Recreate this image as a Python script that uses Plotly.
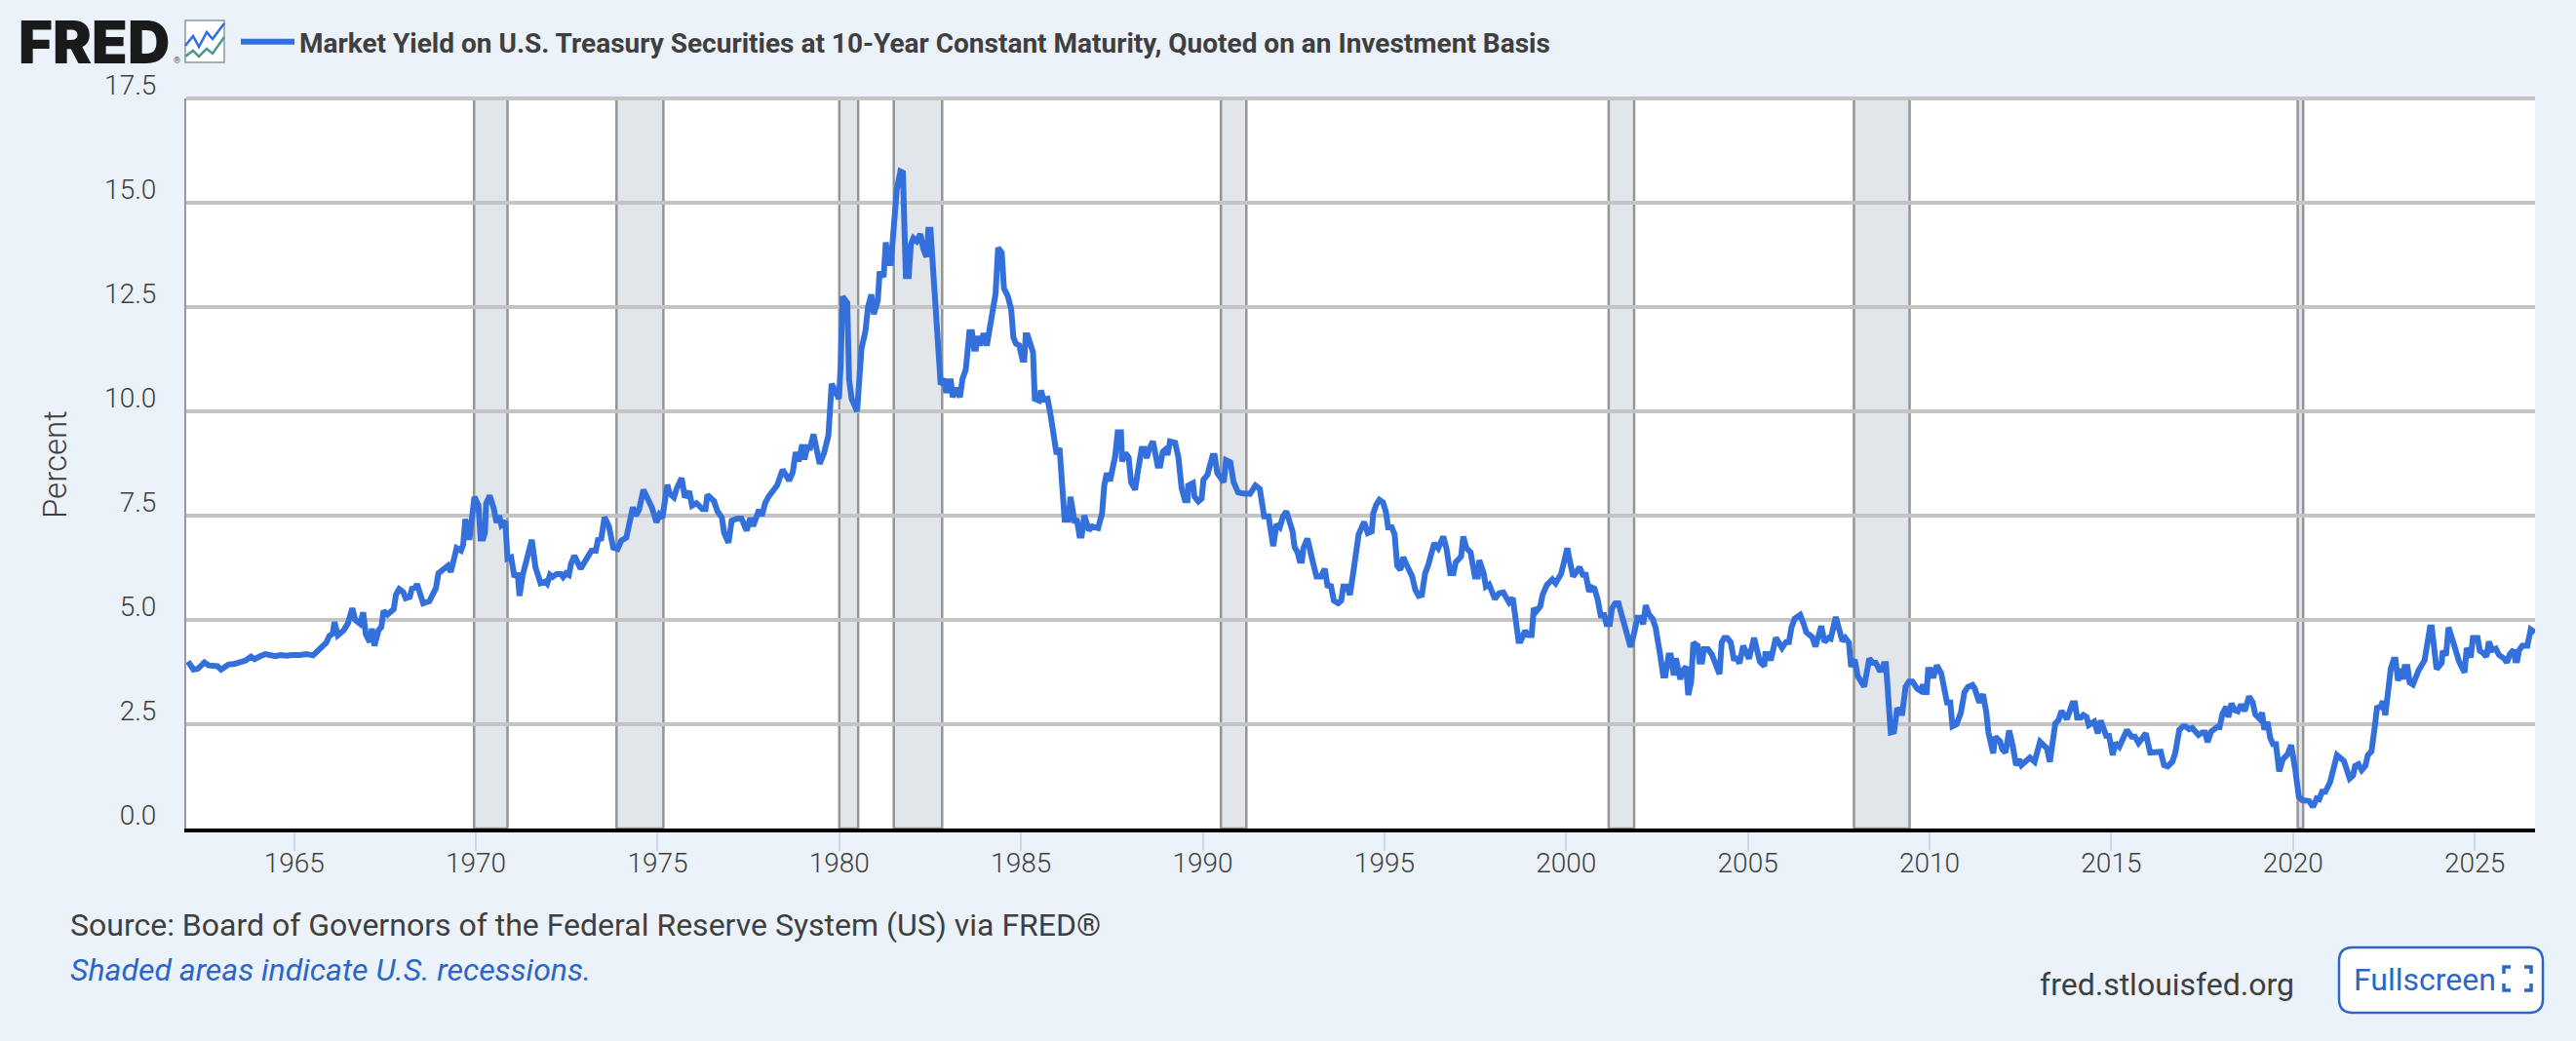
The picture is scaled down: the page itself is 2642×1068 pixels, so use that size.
"""FRED chart: 10-year Treasury constant maturity yield, with recession shading."""

import plotly.graph_objects as go

SERIES_NAME = "Market Yield on U.S. Treasury Securities at 10-Year Constant Maturity, Quoted on an Investment Basis"

years = [
    1962.08, 1962.23, 1962.35, 1962.53, 1962.65, 1962.89, 1962.99, 1963.19, 1963.37, 1963.55, 1963.67, 1963.81,
    1963.91, 1964.09, 1964.21, 1964.48, 1964.63, 1964.80, 1964.92, 1965.16, 1965.34, 1965.52, 1965.70, 1965.88,
    1965.97, 1966.06, 1966.11, 1966.20, 1966.36, 1966.48, 1966.60, 1966.68, 1966.81, 1966.90, 1966.97, 1967.08,
    1967.14, 1967.21, 1967.32, 1967.40, 1967.46, 1967.57, 1967.74, 1967.80, 1967.89, 1968.00, 1968.07, 1968.18,
    1968.24, 1968.33, 1968.38, 1968.48, 1968.55, 1968.72, 1968.81, 1968.90, 1968.97, 1969.11, 1969.23, 1969.31,
    1969.39, 1969.47, 1969.59, 1969.65, 1969.71, 1969.77, 1969.83, 1969.89, 1969.96, 1970.07, 1970.13, 1970.20,
    1970.25, 1970.28, 1970.38, 1970.49, 1970.57, 1970.64, 1970.70, 1970.81, 1970.87, 1970.97, 1971.06, 1971.15,
    1971.20, 1971.29, 1971.44, 1971.54, 1971.64, 1971.78, 1971.90, 1971.96, 1972.04, 1972.11, 1972.22, 1972.34,
    1972.40, 1972.48, 1972.56, 1972.62, 1972.71, 1972.88, 1973.00, 1973.18, 1973.30, 1973.36, 1973.45, 1973.54,
    1973.66, 1973.78, 1973.90, 1974.00, 1974.14, 1974.26, 1974.32, 1974.40, 1974.49, 1974.61, 1974.85, 1974.97,
    1975.05, 1975.13, 1975.27, 1975.33, 1975.45, 1975.53, 1975.66, 1975.75, 1975.87, 1975.95, 1976.07, 1976.23,
    1976.32, 1976.37, 1976.47, 1976.55, 1976.65, 1976.77, 1976.83, 1976.95, 1977.04, 1977.19, 1977.31, 1977.45,
    1977.55, 1977.63, 1977.79, 1977.87, 1977.96, 1978.05, 1978.29, 1978.44, 1978.62, 1978.72, 1978.80, 1978.88,
    1978.98, 1979.04, 1979.12, 1979.20, 1979.29, 1979.46, 1979.58, 1979.70,
    1979.79, 1979.85, 1979.99, 1980.04, 1980.09, 1980.22, 1980.27, 1980.34, 1980.49, 1980.61, 1980.72, 1980.79,
    1980.88, 1980.95, 1981.06, 1981.11, 1981.22, 1981.28, 1981.34, 1981.42, 1981.50, 1981.58, 1981.68, 1981.75,
    1981.83, 1981.91, 1981.97, 1982.04, 1982.13, 1982.23, 1982.31, 1982.40, 1982.45, 1982.51, 1982.58, 1982.67,
    1982.79, 1982.89, 1982.94, 1983.00, 1983.07, 1983.12, 1983.21, 1983.32, 1983.39, 1983.48, 1983.53, 1983.58,
    1983.65, 1983.71, 1983.76, 1983.80, 1983.88, 1983.97, 1984.06, 1984.15, 1984.21, 1984.30, 1984.37, 1984.47,
    1984.53, 1984.64, 1984.73, 1984.79, 1984.86, 1984.95, 1985.04, 1985.09, 1985.13, 1985.18, 1985.33, 1985.38,
    1985.49, 1985.55, 1985.62, 1985.73, 1985.80, 1985.93, 1985.98, 1986.06, 1986.20, 1986.31, 1986.36, 1986.47,
    1986.54, 1986.61, 1986.67, 1986.74, 1986.87, 1986.96, 1987.12, 1987.23, 1987.29, 1987.36, 1987.45, 1987.59,
    1987.66, 1987.75, 1987.78, 1987.87, 1987.96, 1988.03, 1988.14, 1988.21, 1988.32, 1988.39, 1988.46, 1988.52,
    1988.63, 1988.76, 1988.83, 1988.90, 1988.99, 1989.03, 1989.10, 1989.24, 1989.33, 1989.42, 1989.51, 1989.58,
    1989.60, 1989.73, 1989.77, 1989.88, 1989.97, 1990.02, 1990.13, 1990.27, 1990.33, 1990.40, 1990.58, 1990.64,
    1990.76, 1990.85, 1990.97, 1991.12, 1991.30, 1991.45, 1991.57,
    1991.69, 1991.81, 1991.94, 1992.03, 1992.12, 1992.21, 1992.30, 1992.47, 1992.53, 1992.61, 1992.67, 1992.73,
    1992.77, 1992.88, 1993.01, 1993.13, 1993.25, 1993.36, 1993.44, 1993.52, 1993.61, 1993.73, 1993.81, 1993.87,
    1993.97, 1994.05, 1994.14, 1994.22, 1994.29, 1994.44, 1994.54, 1994.65, 1994.69, 1994.77, 1994.86, 1994.96,
    1995.04, 1995.10, 1995.20, 1995.28, 1995.35, 1995.44, 1995.52, 1995.62, 1995.76, 1995.85, 1995.94, 1996.03,
    1996.12, 1996.20, 1996.30, 1996.37, 1996.48, 1996.62, 1996.71, 1996.81, 1996.90, 1996.96, 1997.11, 1997.17,
    1997.25, 1997.37, 1997.49, 1997.57, 1997.61, 1997.73, 1997.79, 1997.88, 1998.04, 1998.15, 1998.27, 1998.43,
    1998.53, 1998.62, 1998.69, 1998.75, 1998.87, 1998.95, 1999.05, 1999.11, 1999.18, 1999.29, 1999.35, 1999.47,
    1999.62, 1999.71, 1999.86, 1999.95, 2000.03, 2000.19, 2000.31, 2000.37, 2000.46, 2000.54, 2000.63, 2000.70,
    2000.78, 2000.87, 2000.96, 2001.03, 2001.11, 2001.20, 2001.26, 2001.35, 2001.44, 2001.54, 2001.68, 2001.77,
    2001.87, 2001.96, 2002.05, 2002.12, 2002.19, 2002.28, 2002.38, 2002.46, 2002.58, 2002.67, 2002.73, 2002.82,
    2002.88, 2002.96, 2003.02, 2003.14, 2003.24, 2003.30, 2003.36, 2003.44, 2003.50, 2003.62, 2003.67, 2003.74,
    2003.79, 2003.90, 2004.01, 2004.13, 2004.22, 2004.28, 2004.35, 2004.43, 2004.53, 2004.61, 2004.69, 2004.77,
    2004.87, 2005.03, 2005.17, 2005.33, 2005.45, 2005.48, 2005.57, 2005.63, 2005.77, 2005.94, 2006.05, 2006.13,
    2006.20, 2006.29, 2006.44, 2006.53, 2006.61, 2006.77, 2006.86, 2007.02, 2007.11, 2007.22, 2007.28, 2007.42,
    2007.60, 2007.68, 2007.78, 2007.84, 2007.94, 2008.02, 2008.20, 2008.34, 2008.44, 2008.52, 2008.62, 2008.69,
    2008.74, 2008.80, 2008.86, 2008.93, 2009.02,
    2009.11, 2009.20, 2009.25, 2009.34, 2009.43, 2009.53, 2009.66, 2009.75, 2009.82, 2009.87, 2009.92, 2009.96,
    2010.03, 2010.10, 2010.20, 2010.32, 2010.42, 2010.48, 2010.57, 2010.63, 2010.74, 2010.86, 2010.96, 2011.05,
    2011.18, 2011.24, 2011.37, 2011.47, 2011.56, 2011.62, 2011.75, 2011.81, 2011.94, 2012.00, 2012.09, 2012.19,
    2012.29, 2012.38, 2012.47, 2012.53, 2012.76, 2012.89, 2013.04, 2013.18, 2013.23, 2013.31, 2013.40, 2013.46,
    2013.55, 2013.63, 2013.78, 2013.93, 2014.00, 2014.06, 2014.16, 2014.23, 2014.32, 2014.38, 2014.53, 2014.63,
    2014.71, 2014.86, 2014.94, 2015.04, 2015.11, 2015.22, 2015.43, 2015.56, 2015.65, 2015.75, 2015.95, 2016.07,
    2016.19, 2016.36, 2016.45, 2016.55, 2016.68, 2016.76, 2016.87, 2016.97, 2017.04, 2017.14, 2017.23, 2017.40,
    2017.50, 2017.58, 2017.65, 2017.75, 2017.91, 2017.98, 2018.06, 2018.16, 2018.22, 2018.31, 2018.39, 2018.48,
    2018.57, 2018.67, 2018.79, 2018.89, 2018.96, 2019.09, 2019.15, 2019.21, 2019.30, 2019.37, 2019.45, 2019.53,
    2019.62, 2019.72, 2019.85, 2019.95, 2020.06, 2020.16, 2020.25, 2020.38, 2020.44, 2020.55, 2020.65, 2020.72,
    2020.80, 2020.89, 2021.02, 2021.21, 2021.40, 2021.56, 2021.65, 2021.71, 2021.80, 2021.89, 2021.99, 2022.06,
    2022.16, 2022.25, 2022.31, 2022.41, 2022.47, 2022.54, 2022.60, 2022.69, 2022.77, 2022.82, 2022.89, 2022.96,
    2023.03, 2023.07, 2023.15, 2023.21, 2023.30, 2023.46, 2023.62, 2023.71, 2023.77, 2023.82, 2023.95, 2024.09,
    2024.12, 2024.21, 2024.28, 2024.44, 2024.57, 2024.72, 2024.78, 2024.89, 2024.95, 2025.08, 2025.14, 2025.23,
    2025.32, 2025.39, 2025.48, 2025.58, 2025.67, 2025.80, 2025.89, 2025.96, 2026.07, 2026.12, 2026.17, 2026.22,
    2026.31, 2026.45, 2026.54, 2026.66,
]

yields = [
    4.00, 3.81, 3.83, 3.98, 3.91, 3.89, 3.81, 3.93, 3.95, 4.00, 4.03, 4.12,
    4.06, 4.14, 4.18, 4.13, 4.16, 4.14, 4.16, 4.16, 4.18, 4.15, 4.29, 4.45,
    4.62, 4.67, 4.95, 4.63, 4.75, 4.92, 5.28, 5.00, 4.91, 5.18, 4.66, 4.47,
    4.79, 4.38, 4.75, 4.83, 5.22, 5.13, 5.26, 5.60, 5.74, 5.67, 5.52, 5.55,
    5.75, 5.77, 5.86, 5.61, 5.40, 5.45, 5.58, 5.76, 6.12, 6.23, 6.30, 6.15,
    6.50, 6.72, 6.66, 6.80, 7.42, 6.98, 6.98, 7.36, 7.95, 7.75, 6.95, 6.95,
    7.09, 7.78, 7.98, 7.68, 7.33, 7.50, 7.28, 7.37, 6.47, 6.50, 6.03, 6.13,
    5.58, 6.08, 6.65, 6.92, 6.26, 5.88, 5.92, 5.87, 6.08, 6.03, 6.10, 6.10,
    6.03, 6.12, 6.08, 6.35, 6.54, 6.23, 6.40, 6.66, 6.66, 6.92, 6.95, 7.46,
    7.25, 6.73, 6.70, 6.90, 6.97, 7.41, 7.70, 7.50, 7.64, 8.12, 7.68, 7.34,
    7.52, 7.44, 8.24, 8.03, 7.94, 8.16, 8.40, 7.94, 8.08, 7.74, 7.80, 7.66,
    7.66, 8.00, 7.89, 7.85, 7.60, 7.45, 7.09, 6.85, 7.38, 7.43, 7.43, 7.14,
    7.44, 7.25, 7.64, 7.50, 7.80, 7.95, 8.23, 8.60, 8.34, 8.54, 9.02, 8.80,
    9.20, 8.85, 9.14, 9.13, 9.45, 8.74, 9.00, 9.42,
    10.66, 10.56, 10.30, 11.15, 12.75, 12.60, 10.76, 10.30, 10.00, 11.50, 11.93, 12.50,
    12.80, 12.33, 12.66, 13.35, 13.22, 14.05, 13.55, 13.55, 14.45, 15.30, 15.75, 15.72,
    13.24, 13.24, 14.00, 14.15, 14.08, 14.25, 13.90, 13.70, 14.35, 14.35, 13.41, 12.16,
    10.64, 10.78, 10.44, 10.72, 10.72, 10.34, 10.56, 10.34, 10.78, 11.00, 11.72, 11.90,
    11.90, 11.50, 11.50, 11.80, 11.58, 11.87, 11.58, 12.05, 12.50, 12.82, 13.92, 13.80,
    12.95, 12.75, 12.44, 11.77, 11.62, 11.58, 11.24, 11.24, 11.82, 11.82, 11.42, 10.30,
    10.26, 10.50, 10.28, 10.30, 9.98, 9.20, 8.97, 9.12, 7.40, 7.40, 7.95, 7.38,
    7.38, 7.02, 7.02, 7.50, 7.15, 7.24, 7.20, 7.55, 8.22, 8.52, 8.33, 8.92,
    9.50, 9.50, 8.80, 9.00, 8.90, 8.30, 8.12, 8.53, 9.10, 9.10, 8.88, 9.08,
    9.28, 8.70, 8.70, 9.03, 9.10, 8.95, 9.28, 9.25, 8.90, 8.15, 7.87, 7.87,
    8.22, 8.28, 7.96, 7.84, 7.91, 8.36, 8.48, 8.93, 8.93, 8.52, 8.30, 8.83,
    8.78, 8.30, 8.06, 8.03, 8.02, 8.22, 8.14,
    7.48, 7.48, 6.77, 7.29, 7.22, 7.48, 7.60, 7.13, 6.74, 6.62, 6.42, 6.42,
    6.72, 6.95, 6.46, 6.04, 6.04, 6.22, 5.78, 5.85, 5.46, 5.40, 5.46, 5.80,
    5.80, 5.60, 6.12, 6.76, 7.05, 7.35, 7.08, 7.12, 7.55, 7.75, 7.88, 7.82,
    7.59, 7.22, 7.22, 7.05, 6.30, 6.20, 6.50, 6.30, 6.05, 5.72, 5.58, 5.60,
    6.12, 6.30, 6.66, 6.84, 6.72, 7.00, 6.70, 6.12, 6.12, 6.38, 6.52, 7.00,
    6.73, 6.62, 6.04, 6.04, 6.43, 6.12, 5.80, 5.85, 5.50, 5.64, 5.66, 5.42,
    5.53, 5.05, 4.50, 4.50, 4.74, 4.64, 4.64, 5.28, 5.21, 5.33, 5.60, 5.84,
    5.97, 5.88, 6.10, 6.42, 6.72, 6.04, 6.22, 6.26, 6.08, 6.08, 5.68, 5.78,
    5.75, 5.48, 5.06, 5.17, 4.90, 4.90, 5.28, 5.40, 5.40, 5.07, 4.66, 4.35,
    4.68, 5.05, 5.05, 4.90, 5.35, 5.13, 5.03, 4.82, 4.20, 3.67, 3.67, 4.15,
    4.15, 3.67, 4.08, 3.58, 3.82, 3.88, 3.20, 3.52, 4.45, 4.38, 4.00, 4.00,
    4.30, 4.30, 4.17, 3.90, 3.70, 4.46, 4.57, 4.57, 4.46, 4.08, 4.08, 3.96,
    4.38, 4.07, 4.57, 4.00, 3.89, 4.18, 4.18, 4.03, 4.57, 4.33, 4.47, 4.47,
    4.82, 5.03, 5.12, 4.92, 4.70, 4.59, 4.36, 4.85, 4.47, 4.57, 4.55, 5.07,
    4.49, 4.57, 4.46, 3.88, 4.05, 3.66, 3.40, 4.07, 3.97, 3.97, 3.80, 3.80,
    3.94, 3.94, 2.91, 2.30, 2.32,
    2.89, 2.77, 2.77, 3.40, 3.52, 3.52, 3.35, 3.30, 3.45, 3.27, 3.27, 3.80,
    3.80, 3.61, 3.91, 3.72, 3.17, 3.02, 3.02, 2.45, 2.50, 2.77, 3.27, 3.39,
    3.44, 3.36, 3.02, 3.22, 2.79, 2.30, 1.80, 2.20, 2.09, 1.90, 1.82, 2.35,
    1.97, 1.52, 1.66, 1.52, 1.70, 1.60, 2.08, 1.92, 1.92, 1.60, 2.35, 2.52,
    2.60, 2.82, 2.62, 3.00, 3.00, 2.66, 2.66, 2.72, 2.67, 2.48, 2.56, 2.28,
    2.59, 2.22, 2.22, 1.76, 2.05, 1.96, 2.36, 2.20, 2.20, 2.05, 2.28, 1.82,
    1.83, 1.84, 1.52, 1.49, 1.60, 1.81, 2.36, 2.45, 2.45, 2.38, 2.41, 2.24,
    2.30, 2.30, 2.07, 2.33, 2.43, 2.43, 2.75, 2.92, 2.67, 3.00, 2.84, 2.81,
    2.97, 2.82, 3.16, 3.03, 2.74, 2.62, 2.78, 2.37, 2.55, 2.18, 2.02, 2.02,
    1.37, 1.66, 1.78, 2.00, 1.42, 0.76, 0.68, 0.66, 0.66, 0.52, 0.72, 0.70,
    0.88, 0.88, 1.11, 1.76, 1.62, 1.20, 1.27, 1.50, 1.54, 1.40, 1.50, 1.76,
    1.85, 2.44, 2.89, 2.92, 3.05, 2.72, 3.14, 3.83, 4.05, 4.05, 3.54, 3.83,
    3.58, 3.87, 3.87, 3.50, 3.45, 3.80, 4.03, 4.53, 4.82, 4.82, 3.82, 3.97,
    4.26, 4.15, 4.82, 4.38, 4.00, 3.74, 4.33, 4.10, 4.57, 4.57, 4.26, 4.21,
    4.12, 4.48, 4.28, 4.31, 4.16, 4.08, 3.98, 4.17, 4.28, 4.03, 4.03, 4.27,
    4.38, 4.38, 4.77, 4.70,
]

recession_starts = [1969.95, 1973.87, 1980.0, 1981.5, 1990.5, 2001.17, 2007.92, 2020.13]
recession_ends = [1970.87, 1975.16, 1980.52, 1982.83, 1991.2, 2001.87, 2009.45, 2020.28]

year_ticks = [1965, 1970, 1975, 1980, 1985, 1990, 1995, 2000, 2005, 2010, 2015, 2020, 2025]
yield_ticks = [0, 2.5, 5, 7.5, 10, 12.5, 15, 17.5]

WIDTH, HEIGHT = 2642, 1068
LEFT, RIGHT, TOP, BOTTOM = 191, 2600, 101, 850
BLUE = "#3370DC"
LINK_BLUE = "#2B66C8"
TEXT = "#3F3F3F"


def px(x):
    return (x - LEFT) / (RIGHT - LEFT)


def py(y):
    return (BOTTOM - y) / (BOTTOM - TOP)


def pixel_path(*parts):
    # parts are path commands with (x, y) pairs in page pixels
    out = []
    for part in parts:
        if isinstance(part, str):
            out.append(part)
        else:
            out.append(f"{px(part[0]):.5f},{py(part[1]):.5f}")
    return " ".join(out)


def text_note(text, x, y, size, color=TEXT, anchor="left", family="Roboto", **font_extra):
    return dict(
        text=text, x=px(x), y=py(y), xref="paper", yref="paper", xanchor=anchor, yanchor="middle",
        showarrow=False, font=dict(family=family, size=size, color=color, **font_extra),
    )


fig = go.Figure()
fig.add_trace(go.Scatter(
    x=years, y=yields, mode="lines", name=SERIES_NAME, hoverinfo="skip",
    line=dict(color=BLUE, width=6, shape="linear"),
))

shapes = []
for start, end in zip(recession_starts, recession_ends):
    shapes.append(dict(
        type="rect", layer="below", xref="x", yref="paper", x0=start, x1=end, y0=0, y1=1,
        fillcolor="#E2E6EB", line=dict(color="#959595", width=2.5),
    ))

# top gridline sits on the edge of the plot, plotly leaves it out
shapes.append(dict(
    type="line", layer="below", xref="paper", yref="paper", x0=0, x1=1, y0=1, y1=1,
    line=dict(color="#C4C4C4", width=4),
))

# logo icon
shapes.append(dict(
    type="path", xref="paper", yref="paper", fillcolor="#FFFFFF", line=dict(color="#8A9A96", width=1.5),
    path=pixel_path("M", (190, 21), "L", (230, 21), "L", (230, 64), "L", (190, 64), "Z"),
))
shapes.append(dict(
    type="path", xref="paper", yref="paper", line=dict(color="#2E6FE0", width=2.5),
    path=pixel_path("M", (190, 47), "L", (198, 37), "L", (204, 48), "L", (212, 33), "L", (218, 40), "L", (230, 24)),
))
shapes.append(dict(
    type="path", xref="paper", yref="paper", line=dict(color="#4A9A8E", width=2.5),
    path=pixel_path("M", (190, 58), "L", (198, 52), "L", (204, 58), "L", (212, 50), "L", (218, 55), "L", (230, 38)),
))

# fullscreen button
shapes.append(dict(
    type="path", xref="paper", yref="paper", fillcolor="#FFFFFF", line=dict(color=LINK_BLUE, width=2.5),
    path=pixel_path(
        "M", (2413, 972), "L", (2594, 972), "Q", (2608, 972), (2608, 986), "L", (2608, 1025),
        "Q", (2608, 1039), (2594, 1039), "L", (2413, 1039), "Q", (2399, 1039), (2399, 1025),
        "L", (2399, 986), "Q", (2399, 972), (2413, 972), "Z",
    ),
))
for corner in [
    ((2568, 999), (2568, 992), (2575, 992)),
    ((2589, 992), (2596, 992), (2596, 999)),
    ((2596, 1009), (2596, 1016), (2589, 1016)),
    ((2575, 1016), (2568, 1016), (2568, 1009)),
]:
    shapes.append(dict(
        type="path", xref="paper", yref="paper", line=dict(color=LINK_BLUE, width=3.5),
        path=pixel_path("M", corner[0], "L", corner[1], "L", corner[2]),
    ))

annotations = [
    text_note("FRED", 17, 43, 60, color="#1A1A1A", family="Inter", weight=900),
    text_note("®", 176, 62, 9, color="#555555"),
    text_note("Percent", 56, 477, 33, weight=300),
    text_note("Source: Board of Governors of the Federal Reserve System (US) via FRED®", 70, 949, 32),
    text_note("Shaded areas indicate U.S. recessions.", 70, 995, 32, color=LINK_BLUE, style="italic"),
    text_note("fred.stlouisfed.org", 2090, 1010, 32),
    text_note("Fullscreen", 2412, 1005, 32, color=LINK_BLUE),
]
annotations[2]["textangle"] = -90
annotations[2]["xanchor"] = "center"

fig.update_layout(
    width=WIDTH, height=HEIGHT,
    margin=dict(l=LEFT, r=WIDTH - RIGHT, t=TOP, b=HEIGHT - BOTTOM, autoexpand=False),
    paper_bgcolor="#EBF2FA", plot_bgcolor="#FFFFFF",
    font=dict(family="Roboto", color=TEXT, size=28),
    showlegend=True,
    legend=dict(
        x=px(242), y=py(43), xanchor="left", yanchor="middle", bgcolor="rgba(0,0,0,0)",
        itemwidth=55, font=dict(family="Roboto", size=28, color=TEXT, weight=700),
    ),
    shapes=shapes, annotations=annotations,
    xaxis=dict(
        range=[1962.03, 2026.66], tickvals=year_ticks, ticktext=[str(y) for y in year_ticks],
        showgrid=False, zeroline=False, showline=True, linecolor="#000000", linewidth=4,
        ticks="outside", ticklen=19, tickwidth=2, tickcolor="#CCD6EB",
        ticklabelstandoff=-12, tickfont=dict(weight=300),
    ),
    yaxis=dict(
        range=[0, 17.5], tickvals=yield_ticks, tickformat=".1f",
        showgrid=True, gridcolor="#C4C4C4", gridwidth=4, zeroline=False,
        showline=True, linecolor="#999999", linewidth=2,
        ticks="", ticklabelstandoff=23, ticklabelshift=-14, tickfont=dict(weight=300),
    ),
)

fig.write_html(
    "out.html",
    config={"displayModeBar": False},
    post_script="document.body.style.margin='0';document.body.style.overflow='hidden';",
)
